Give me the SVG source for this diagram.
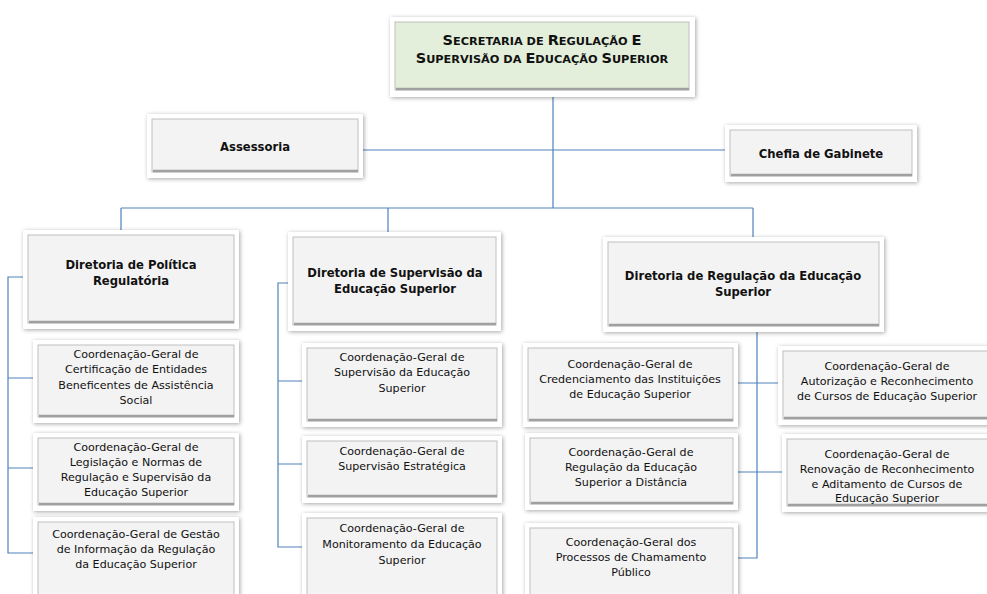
<svg xmlns="http://www.w3.org/2000/svg" width="987" height="594" viewBox="0 0 987 594">
<defs>
<filter id="sh" x="-10%" y="-20%" width="120%" height="140%">
<feDropShadow dx="1" dy="1" stdDeviation="2" flood-color="#000" flood-opacity="0.35"/>
</filter>
<style>
.o{fill:#ffffff;filter:url(#sh)}
.i{fill:#f3f3f3;stroke:#c0c0c0;stroke-width:1}
.g{fill:#e3efda;stroke:#c0c0c0;stroke-width:1}
.b{stroke:#a0a0a0;stroke-width:2.5;fill:none}
.c{stroke:#4f81bd;stroke-width:1.2;fill:none}
text{font-family:"DejaVu Sans","Liberation Sans",sans-serif;fill:#111111;text-anchor:middle}
.t{font-size:11.1px}
.h{font-size:11.6px;font-weight:bold}
.s{font-weight:bold;font-size:14.5px}
.s tspan.k{font-size:11.3px}
</style>
</defs>
<rect width="987" height="594" fill="#ffffff"/>
<g id="connectors">
<path class="c" d="M553,97 V208 M363,150 H727 M121,208 H753 M121,208 V230 M388,208 V232 M753,208 V237"/>
<path class="c" d="M23,277 H8 V553 H33 M8,378 H33 M8,468 H33"/>
<path class="c" d="M288,283 H278 V547 H302 M278,381 H302 M278,464 H302"/>
<path class="c" d="M757,332 V558 H738 M738,383 H778 M738,472 H782"/>
</g>
<g id="secretaria">
<rect class="o" x="390" y="17" width="305" height="80"/>
<rect class="g" x="395" y="22" width="294" height="68"/>
<line class="b" x1="396" y1="89" x2="689" y2="89"/>
<text class="s" x="542" y="45">S<tspan class="k">ECRETARIA DE </tspan>R<tspan class="k">EGULAÇÃO </tspan>E</text>
<text class="s" x="542" y="63">S<tspan class="k">UPERVISÃO DA </tspan>E<tspan class="k">DUCAÇÃO </tspan>S<tspan class="k">UPERIOR</tspan></text>
</g>
<g id="assessoria">
<rect class="o" x="147" y="114" width="216" height="64"/>
<rect class="i" x="152" y="119" width="206" height="53"/>
<line class="b" x1="153" y1="171" x2="358" y2="171"/>
<text class="h" x="255" y="151">Assessoria</text>
</g>
<g id="chefia">
<rect class="o" x="725" y="125" width="192" height="57"/>
<rect class="i" x="730" y="130" width="182" height="46"/>
<line class="b" x1="731" y1="175" x2="912" y2="175"/>
<text class="h" x="821" y="158">Chefia de Gabinete</text>
</g>
<g id="dir-politica">
<rect class="o" x="23" y="230" width="216" height="99"/>
<rect class="i" x="28" y="235" width="206" height="88"/>
<line class="b" x1="29" y1="322" x2="234" y2="322"/>
<text class="h" x="131" y="269">Diretoria de Política</text>
<text class="h" x="131" y="285">Regulatória</text>
</g>
<g id="cg-certificacao">
<rect class="o" x="33" y="340" width="206" height="83"/>
<rect class="i" x="38" y="345" width="196" height="72"/>
<line class="b" x1="39" y1="416" x2="234" y2="416"/>
<text class="t" x="136" y="358">Coordenação-Geral de</text>
<text class="t" x="136" y="373">Certificação de Entidades</text>
<text class="t" x="136" y="389">Beneficentes de Assistência</text>
<text class="t" x="136" y="404">Social</text>
</g>
<g id="cg-legislacao">
<rect class="o" x="33" y="433" width="206" height="78"/>
<rect class="i" x="38" y="438" width="196" height="67"/>
<line class="b" x1="39" y1="504" x2="234" y2="504"/>
<text class="t" x="136" y="451">Coordenação-Geral de</text>
<text class="t" x="136" y="466">Legislação e Normas de</text>
<text class="t" x="136" y="481">Regulação e Supervisão da</text>
<text class="t" x="136" y="496">Educação Superior</text>
</g>
<g id="cg-gestao">
<rect class="o" x="33" y="517" width="206" height="90"/>
<rect class="i" x="38" y="522" width="196" height="80"/>
<text class="t" x="136" y="538">Coordenação-Geral de Gestão</text>
<text class="t" x="136" y="553">de Informação da Regulação</text>
<text class="t" x="136" y="568">da Educação Superior</text>
</g>
<g id="dir-supervisao">
<rect class="o" x="288" y="232" width="213" height="99"/>
<rect class="i" x="293" y="237" width="203" height="88"/>
<line class="b" x1="294" y1="324" x2="496" y2="324"/>
<text class="h" x="395" y="277">Diretoria de Supervisão da</text>
<text class="h" x="395" y="293">Educação Superior</text>
</g>
<g id="cg-sup-educacao">
<rect class="o" x="302" y="343" width="200" height="84"/>
<rect class="i" x="307" y="348" width="190" height="73"/>
<line class="b" x1="308" y1="420" x2="497" y2="420"/>
<text class="t" x="402" y="361">Coordenação-Geral de</text>
<text class="t" x="402" y="376">Supervisão da Educação</text>
<text class="t" x="402" y="392">Superior</text>
</g>
<g id="cg-sup-estrategica">
<rect class="o" x="302" y="436" width="200" height="67"/>
<rect class="i" x="307" y="441" width="190" height="56"/>
<line class="b" x1="308" y1="496" x2="497" y2="496"/>
<text class="t" x="402" y="455">Coordenação-Geral de</text>
<text class="t" x="402" y="470">Supervisão Estratégica</text>
</g>
<g id="cg-monitoramento">
<rect class="o" x="302" y="513" width="200" height="90"/>
<rect class="i" x="307" y="518" width="190" height="80"/>
<text class="t" x="402" y="532">Coordenação-Geral de</text>
<text class="t" x="402" y="548">Monitoramento da Educação</text>
<text class="t" x="402" y="564">Superior</text>
</g>
<g id="dir-regulacao">
<rect class="o" x="603" y="237" width="281" height="95"/>
<rect class="i" x="608" y="242" width="271" height="84"/>
<line class="b" x1="609" y1="325" x2="879" y2="325"/>
<text class="h" x="743" y="280">Diretoria de Regulação da Educação</text>
<text class="h" x="743" y="296">Superior</text>
</g>
<g id="cg-credenciamento">
<rect class="o" x="523" y="343" width="215" height="84"/>
<rect class="i" x="528" y="348" width="205" height="73"/>
<line class="b" x1="529" y1="420" x2="733" y2="420"/>
<text class="t" x="630" y="368">Coordenação-Geral de</text>
<text class="t" x="630" y="383">Credenciamento das Instituições</text>
<text class="t" x="630" y="398">de Educação Superior</text>
</g>
<g id="cg-distancia">
<rect class="o" x="525" y="433" width="213" height="77"/>
<rect class="i" x="530" y="438" width="203" height="66"/>
<line class="b" x1="531" y1="503" x2="733" y2="503"/>
<text class="t" x="631" y="456">Coordenação-Geral de</text>
<text class="t" x="631" y="471">Regulação da Educação</text>
<text class="t" x="631" y="486">Superior a Distância</text>
</g>
<g id="cg-chamamento">
<rect class="o" x="525" y="523" width="213" height="80"/>
<rect class="i" x="530" y="528" width="203" height="70"/>
<text class="t" x="631" y="546">Coordenação-Geral dos</text>
<text class="t" x="631" y="561">Processos de Chamamento</text>
<text class="t" x="631" y="576">Público</text>
</g>
<g id="cg-autorizacao">
<rect class="o" x="778" y="346" width="215" height="79"/>
<rect class="i" x="783" y="351" width="210" height="68"/>
<line class="b" x1="784" y1="418" x2="993" y2="418"/>
<text class="t" x="887" y="370">Coordenação-Geral de</text>
<text class="t" x="887" y="385">Autorização e Reconhecimento</text>
<text class="t" x="887" y="400">de Cursos de Educação Superior</text>
</g>
<g id="cg-renovacao">
<rect class="o" x="782" y="434" width="211" height="78"/>
<rect class="i" x="787" y="439" width="206" height="67"/>
<line class="b" x1="788" y1="505" x2="993" y2="505"/>
<text class="t" x="887" y="458">Coordenação-Geral de</text>
<text class="t" x="887" y="473">Renovação de Reconhecimento</text>
<text class="t" x="887" y="488">e Aditamento de Cursos de</text>
<text class="t" x="887" y="502">Educação Superior</text>
</g>
</svg>
